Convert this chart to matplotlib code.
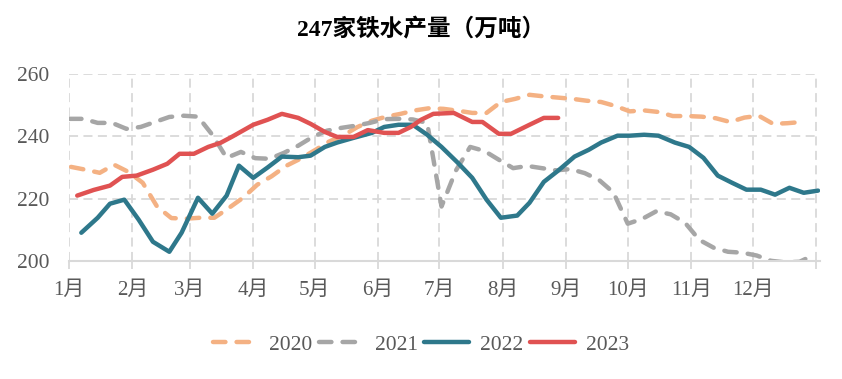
import matplotlib.pyplot as plt

plt.rcParams['font.family'] = ['Liberation Serif', 'Noto Sans CJK SC']

# weekly readings, x = day of year
days_2020 = [1, 8, 15, 22, 29, 36, 43, 50, 57, 64, 71, 78, 85, 92, 99, 106, 113, 120, 127, 134,
             141, 148, 155, 162, 169, 176, 183, 190, 197, 204, 211, 218, 225, 232, 239, 246, 253,
             260, 267, 274, 281, 288, 295, 302, 309, 316, 323, 330, 337, 344, 351, 358]
vals_2020 = [230.2, 229.3, 228.3, 230.9, 228.6, 225.1, 217.5, 213.8, 213.6, 213.9, 213.9, 217.0,
             220.3, 224.5, 227.2, 230.5, 232.8, 235.5, 238.3, 240.3, 243.0, 245.0, 246.3, 247.2,
             248.3, 249.0, 248.8, 248.2, 247.5, 247.5, 251.0, 252.0, 253.3, 252.8, 252.4, 252.0,
             251.4, 251.0, 249.7, 248.0, 248.3, 247.8, 246.5, 246.5, 246.3, 245.8, 244.6, 246.0,
             246.6, 244.0, 244.2, 244.6]

days_2021 = [0, 7, 14, 21, 28, 35, 42, 49, 56, 63, 70, 77, 84, 91, 98, 105, 112, 119, 126, 133,
             140, 147, 154, 161, 168, 175, 182, 189, 196, 203, 210, 217, 224, 231, 238, 245, 252,
             259, 266, 273, 280, 287, 294, 301, 308, 315, 322, 329, 336, 343, 350, 357, 364]
vals_2021 = [245.6, 245.6, 244.3, 244.3, 242.4, 243.0, 244.6, 246.2, 246.6, 246.3, 240.5, 233.1,
             235.0, 233.0, 232.8, 234.7, 237.0, 239.8, 241.8, 242.7, 243.4, 244.3, 245.5, 245.6,
             245.4, 244.3, 217.5, 229.0, 236.6, 235.3, 232.5, 229.8, 230.5, 229.8, 229.1, 229.5,
             228.2, 226.0, 222.0, 212.0, 213.5, 216.0, 215.0, 212.3, 206.8, 204.3, 203.0, 202.7,
             201.8, 200.1, 199.6, 199.8, 202.0]

days_2022 = [6, 14, 20, 27, 34, 41, 49, 55, 63, 70, 77, 83, 90, 97, 104, 112, 118, 125, 131, 139,
             148, 154, 161, 168, 175, 182, 190, 197, 204, 211, 219, 225, 232, 239, 247, 254, 260,
             268, 274, 281, 288, 296, 303, 310, 317, 324, 331, 338, 345, 352, 359, 366]
vals_2022 = [209.1, 213.9, 218.4, 219.7, 213.3, 206.2, 203.0, 209.1, 220.3, 215.2, 221.0, 230.6,
             226.7, 230.0, 233.5, 233.3, 233.8, 236.6, 238.0, 239.5, 241.1, 243.0, 243.7, 243.7,
             240.5, 236.6, 231.5, 226.7, 219.7, 213.9, 214.6, 218.7, 225.4, 229.0, 233.5, 235.7,
             238.0, 240.2, 240.2, 240.5, 240.2, 238.0, 236.6, 233.1, 227.4, 225.1, 222.9, 222.9,
             221.3, 223.5, 221.9, 222.6]

days_2023 = [4, 12, 20, 26, 33, 41, 48, 54, 61, 68, 74, 80, 90, 97, 104, 112, 118, 125, 131, 139,
             146, 154, 161, 167, 172, 178, 188, 197, 202, 210, 216, 225, 232, 239]
vals_2023 = [221.0, 222.8, 224.2, 227.0, 227.4, 229.3, 231.2, 234.4, 234.4, 236.6, 237.9, 240.0,
             243.7, 245.3, 247.2, 245.9, 244.0, 241.4, 239.8, 239.8, 242.0, 241.1, 241.1, 243.0,
             245.3, 247.2, 247.5, 244.6, 244.6, 240.8, 240.8, 243.7, 245.9, 245.9]

month_starts = [0, 31, 59, 90, 120, 151, 181, 212, 243, 273, 304, 334, 365]
month_labels = ['1月', '2月', '3月', '4月', '5月', '6月', '7月', '8月', '9月', '10月', '11月', '12月', '']

fig = plt.figure(figsize=(8.42, 3.79), dpi=100)
ax = fig.add_axes([0.082, 0.311, 0.892, 0.494])

lw = 3.2
ax.plot(days_2020, vals_2020, color='#F4B183', lw=lw, dashes=(2.8, 2.5),
        dash_capstyle='round', label='2020')
ax.plot(days_2021, vals_2021, color='#A6A6A6', lw=lw, dashes=(2.8, 2.5),
        dash_capstyle='round', label='2021')
ax.plot(days_2022, vals_2022, color='#2E788B', lw=lw, solid_capstyle='round', label='2022')
ax.plot(days_2023, vals_2023, color='#E05252', lw=lw, solid_capstyle='round', label='2023')

ax.set_xlim(0, 367)
ax.set_ylim(200, 260)
ax.set_yticks([200, 220, 240, 260])
ax.set_xticks(month_starts)
ax.set_xticklabels(month_labels)

ax.grid(True, color='#D9D9D9', linestyle=(0, (5, 3)), linewidth=1.3)
ax.set_axisbelow(True)
for s in ['top', 'right', 'left']:
    ax.spines[s].set_visible(False)
ax.spines['bottom'].set_color('#D9D9D9')
ax.spines['bottom'].set_linewidth(1.5)

ax.tick_params(axis='y', length=0, pad=14, labelsize=15.5, labelcolor='#595959')
ax.tick_params(axis='x', length=6, width=1.3, color='#D9D9D9', pad=8,
               labelsize=15, labelcolor='#595959')

fig.text(0.5, 0.921, '247家铁水产量（万吨）', ha='center', va='center',
         fontsize=17, fontweight='bold', color='black')

leg = fig.legend(loc='center', bbox_to_anchor=(0.5, 0.09), ncol=4, frameon=False,
                 fontsize=15.5, handlelength=2.1, columnspacing=0.3, handletextpad=0.5)
for t in leg.get_texts():
    t.set_color('#595959')

fig.savefig('out.png', dpi=100)
